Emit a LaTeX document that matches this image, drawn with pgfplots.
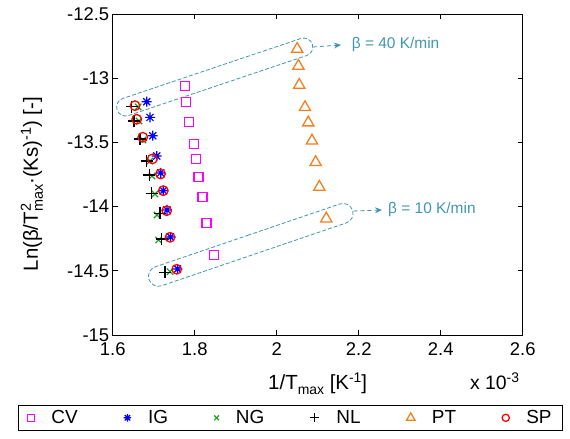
\documentclass[border=0pt]{standalone}
\usepackage{pgfplots}
\pgfplotsset{compat=1.18}
\usepackage{fontspec}
\setmainfont{Liberation Sans}
\usetikzlibrary{shapes.misc,arrows.meta}
\definecolor{cvc}{rgb}{1,0,1}
\definecolor{igc}{rgb}{0,0,1}
\definecolor{ngc}{rgb}{0.1,0.62,0.1}
\definecolor{ptc}{rgb}{0.95,0.5,0.12}
\definecolor{spc}{rgb}{1,0,0}
\definecolor{teal2}{RGB}{64,150,175}
\pgfdeclareplotmark{mstar}{%
 \pgfpathmoveto{\pgfqpoint{-\pgfplotmarksize}{0pt}}\pgfpathlineto{\pgfqpoint{\pgfplotmarksize}{0pt}}%
 \pgfpathmoveto{\pgfqpoint{0pt}{-\pgfplotmarksize}}\pgfpathlineto{\pgfqpoint{0pt}{\pgfplotmarksize}}%
 \pgfpathmoveto{\pgfqpoint{-0.7071\pgfplotmarksize}{-0.7071\pgfplotmarksize}}\pgfpathlineto{\pgfqpoint{0.7071\pgfplotmarksize}{0.7071\pgfplotmarksize}}%
 \pgfpathmoveto{\pgfqpoint{-0.7071\pgfplotmarksize}{0.7071\pgfplotmarksize}}\pgfpathlineto{\pgfqpoint{0.7071\pgfplotmarksize}{-0.7071\pgfplotmarksize}}%
 \pgfusepathqstroke}
\begin{document}
\begin{tikzpicture}
\begin{axis}[
  scale only axis, width=410bp, height=321bp,
  at={(0,0)}, anchor=south west, clip=false,
  xmin=1.6, xmax=2.6, ymin=-15, ymax=-12.5,
  xtick={1.6,1.8,2,2.2,2.4,2.6},
  xticklabels={1.6,1.8,2,2.2,2.4,2.6},
  ytick={-15,-14.5,-14,-13.5,-13,-12.5},
  yticklabels={-15,-14.5,-14,-13.5,-13,-12.5},
  tick align=inside, major tick length=5bp,
  tick style={black, line width=0.7pt},
  axis line style={line width=0.8pt},
  ticklabel style={font=\fontsize{18.5}{20}\selectfont},
  /pgf/number format/assume math mode=true,
  xticklabel style={yshift=-4bp},
  label style={font=\fontsize{20.5}{22}\selectfont},
  xlabel={1/T\raisebox{-0.45ex}{\fontsize{14}{14}\selectfont max} [K\raisebox{0.6ex}{\fontsize{14}{14}\selectfont -1}]},
  xlabel style={at={(axis description cs:0.5,-0.152)}, anchor=center},
  ylabel={Ln(β/T\makebox[0pt][l]{\raisebox{0.65ex}{\fontsize{14.5}{14}\selectfont 2}}\raisebox{-0.45ex}{\fontsize{14.5}{14}\selectfont max}·(Ks)\raisebox{0.65ex}{\fontsize{14.5}{14}\selectfont -1}) [-]},
  ylabel style={at={(axis description cs:-0.197,0.47)}, anchor=center},
  legend columns=6,
  legend image post style={mark options={scale=0.75}},
  legend style={at={(axis description cs:0.434,-0.258)}, anchor=center,
    draw=black, line width=0.7pt, font=\fontsize{19}{21}\selectfont,
    /tikz/every odd column/.append style={column sep=15bp},
    /tikz/every even column/.append style={column sep=44bp},
    inner ysep=3.5bp, inner xsep=9bp},
]
\addplot[only marks, mark=square, mark size=4.5bp, cvc, line width=1.3pt] coordinates {
(1.776,-13.061) (1.778,-13.188) (1.786,-13.339) (1.7975,-13.512) (1.803,-13.632)
(1.809,-13.767) (1.819,-13.925) (1.829,-14.13) (1.847,-14.377)};
\addlegendentry{CV}
\addplot[only marks, mark=mstar, mark size=5bp, igc, line width=1.2pt] coordinates {
(1.683,-13.183) (1.691,-13.305) (1.6976,-13.448) (1.7073,-13.606) (1.717,-13.738)
(1.7234,-13.876) (1.7324,-14.026) (1.741,-14.237) (1.758,-14.486)};
\addlegendentry{IG}
\addplot[only marks, mark=x, mark size=4.5bp, ngc, line width=1.2pt] coordinates {
(1.662,-13.224) (1.664,-13.333) (1.674,-13.481) (1.691,-13.645) (1.696,-13.762)
(1.703,-13.902) (1.708,-14.065) (1.712,-14.26) (1.74,-14.507)};
\addlegendentry{NG}
\addplot[only marks, mark=+, mark size=6bp, black, line width=1.2pt] coordinates {
(1.6463,-13.222) (1.652,-13.333) (1.6666,-13.474) (1.683,-13.645) (1.689,-13.754)
(1.695,-13.896) (1.7154,-14.052) (1.7195,-14.252) (1.7276,-14.512)};
\addlegendentry{NL}
\addplot[only marks, mark=triangle, mark size=6.5bp, ptc, line width=1.3pt] coordinates {
(2.050,-12.773) (2.053,-12.905) (2.055,-13.053) (2.069,-13.227) (2.077,-13.346)
(2.086,-13.487) (2.095,-13.655) (2.104,-13.847) (2.121,-14.094)};
\addlegendentry{PT}
\addplot[only marks, mark=o, mark size=4.8bp, spc, line width=1.3pt] coordinates {
(1.6544,-13.214) (1.6585,-13.320) (1.6732,-13.460) (1.6966,-13.629) (1.7166,-13.746)
(1.7234,-13.876) (1.7317,-14.032) (1.7398,-14.239) (1.7561,-14.488)};
\addlegendentry{SP}
% annotations
\node[draw=teal2, dash pattern=on 4bp off 2bp, line width=0.8pt, rounded rectangle, minimum width=206bp, minimum height=18bp, inner sep=0pt, rotate=18.6] at (axis cs:1.8488,-12.9907) {};
\node[draw=teal2, dash pattern=on 4bp off 2bp, line width=0.8pt, rounded rectangle, minimum width=215bp, minimum height=20bp, inner sep=0pt, rotate=18.8] at (axis cs:1.9368,-14.298) {};
\draw[teal2, dash pattern=on 4bp off 3bp, line width=0.8pt, -{Stealth[length=7bp,width=6bp]}] (axis cs:2.0885,-12.757) -- (axis cs:2.1568,-12.7414);
\draw[teal2, dash pattern=on 4bp off 3bp, line width=0.8pt, -{Stealth[length=7bp,width=6bp]}] (axis cs:2.1873,-14.034) -- (axis cs:2.2568,-14.0265);
\node[teal2, anchor=west, inner sep=0pt, font=\fontsize{15.5}{17}\selectfont] at (axis cs:2.1829,-12.741) {β = 40 K/min};
\node[teal2, anchor=west, inner sep=0pt, font=\fontsize{15.5}{17}\selectfont] at (axis cs:2.2715,-14.0265) {β = 10 K/min};
\node[anchor=west, inner sep=0pt, font=\fontsize{19.5}{21}\selectfont] at (axis description cs:0.871,-0.143) {x 10\raisebox{0.65ex}{\fontsize{14}{14}\selectfont -3}};
\end{axis}
\pgfresetboundingbox
\path (-112.7bp,-104bp) rectangle (457.3bp,335bp);
\end{tikzpicture}
\end{document}
